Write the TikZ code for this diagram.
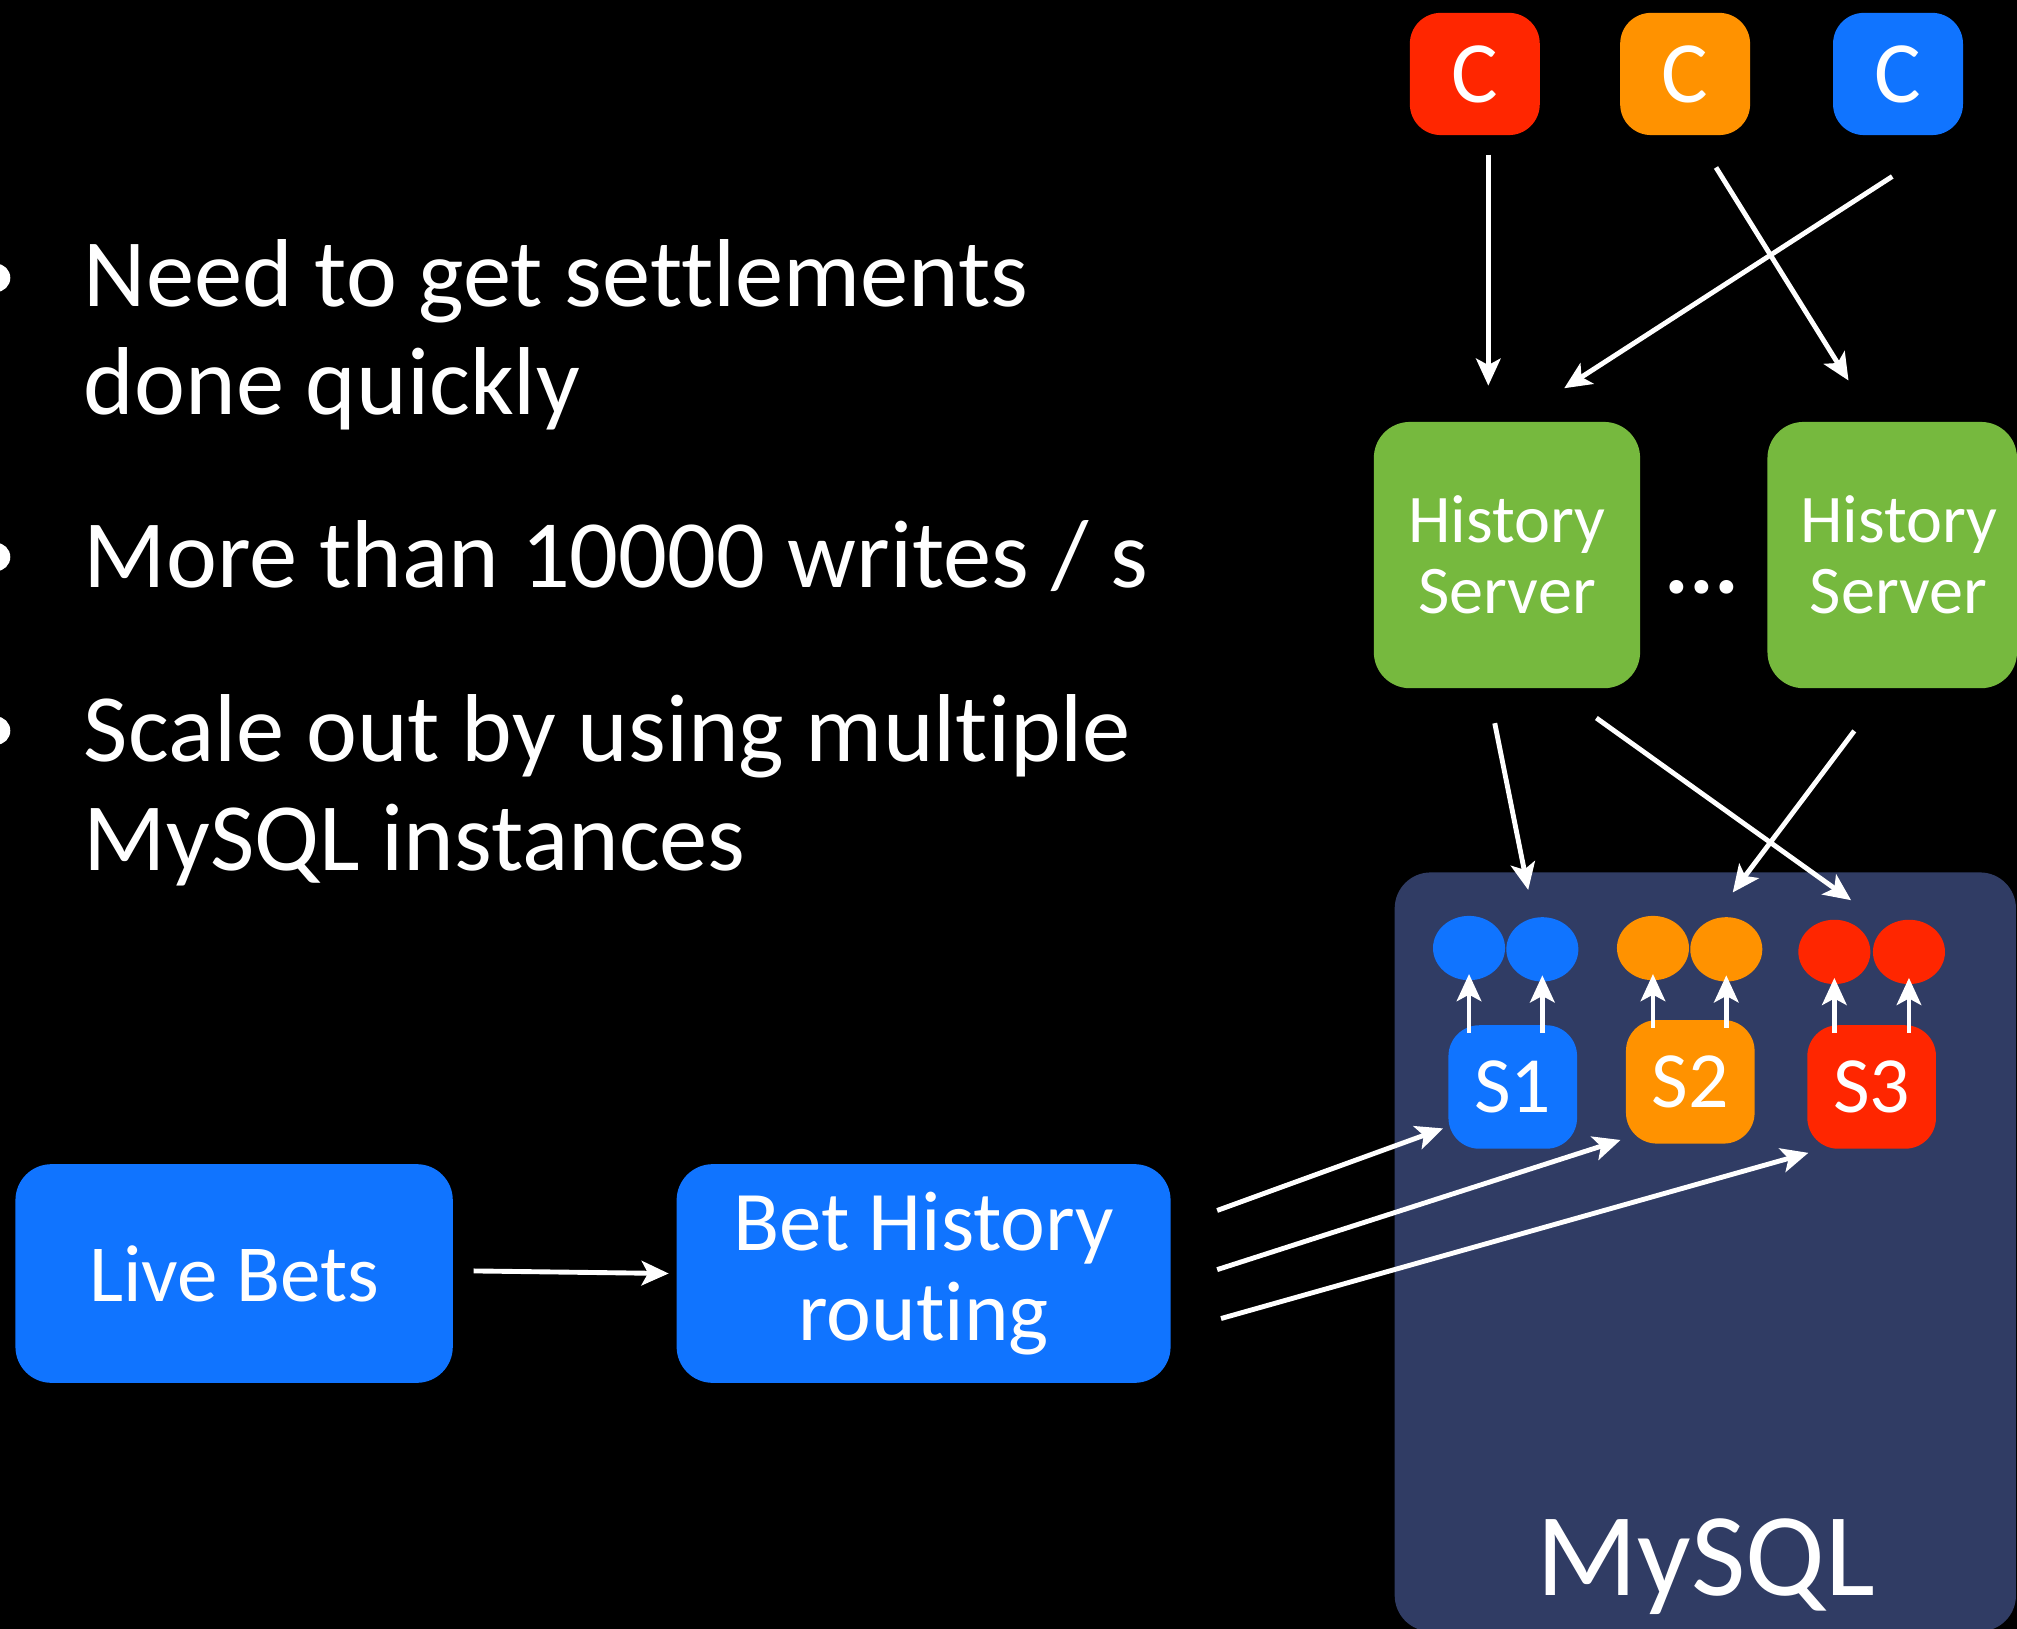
\documentclass[tikz,border=0pt]{standalone}
\usepackage{fontspec}
\setmainfont[Ligatures={NoCommon}]{Carlito}
\usetikzlibrary{arrows.meta,calc,shapes.geometric}
\definecolor{cblue}{RGB}{16,116,255}
\definecolor{corange}{RGB}{255,146,0}
\definecolor{cred}{RGB}{255,38,0}
\definecolor{cgreen}{RGB}{118,185,62}
\definecolor{cnavy}{RGB}{48,60,100}
\begin{document}
\begin{tikzpicture}[x=1pt,y=-1pt,
  box/.style={rounded corners=28pt, text=white, inner sep=0pt, align=center},
  cbox/.style={box, rounded corners=24pt, minimum width=101pt, minimum height=95pt, font=\fontsize{68}{68}\selectfont},
  sbox/.style={box, rounded corners=24pt, minimum width=100pt, minimum height=96pt, font=\fontsize{62}{62}\selectfont},
  hsbox/.style={box, fill=cgreen, minimum height=207pt, font=\fontsize{53}{55}\selectfont},
  bigbox/.style={box, fill=cblue, minimum height=170pt},
  blob/.style={ellipse, minimum width=56pt, minimum height=50pt, inner sep=0pt},
  bul/.style={text=white, inner sep=0pt, font=\fontsize{75}{85}\selectfont},
  arr/.style={draw=white, line width=3.8pt, -{Stealth[length=21pt,width=19pt,inset=5pt]}},
  sarr/.style={arr},
]
\fill[black] (0,0) rectangle (1568,1266);
\useasboundingbox (0,0) rectangle (1568,1266);

% bullets
\foreach \yy in {216,433,568}{
  \fill[white] (-3,\yy) circle[radius=11pt];
}
\node[bul, anchor=base west] (t1) at (65,238) {Need to get settlements};
\node[bul, anchor=base west] (t1b) at (65,322) {done quickly};
\node[bul, anchor=base west] (t2) at (65,457) {More than 10000 writes / s};
\node[bul, anchor=base west] (t3) at (65,592) {Scale out by using multiple};
\node[bul, anchor=base west] (t3b) at (65,677) {MySQL instances};

% MySQL container
\node[box, fill=cnavy, minimum width=483pt, minimum height=590pt, anchor=north west] (db) at (1084,678) {};
\node[text=white, inner sep=0pt, anchor=base, font=\fontsize{92}{92}\selectfont] (dbl) at (1326,1240) {MySQL};

% clients
\node[cbox, fill=cred] (c1) at (1146.5,57.5) {C};
\node[cbox, fill=corange] (c2) at (1310,57.5) {C};
\node[cbox, fill=cblue] (c3) at (1475.5,57.5) {C};

% history servers
\node[hsbox, minimum width=207pt] (h1) at (1171.5,431.5) {History\\Server};
\node[hsbox, minimum width=194pt] (h2) at (1471,431.5) {\hspace*{10pt}History\\\hspace*{10pt}Server};
\node[text=white, inner sep=0pt, anchor=base, font=\fontsize{72}{72}\bfseries] (dots) at (1323,461) {...};

% shards
\node[blob, fill=cblue] (e11) at (1142,737) {};
\node[blob, fill=cblue] (e12) at (1199,738) {};
\node[blob, fill=corange] (e21) at (1285,737) {};
\node[blob, fill=corange] (e22) at (1342,738) {};
\node[blob, fill=cred] (e31) at (1426,740) {};
\node[blob, fill=cred] (e32) at (1484,740) {};

\node[sbox, fill=cblue] (s1) at (1176,845) {S1};
\node[sbox, fill=corange] (s2) at (1314,841) {S2};
\node[sbox, fill=cred] (s3) at (1455,845) {S3};

% live bets & routing
\node[bigbox, minimum width=340pt, font=\fontsize{63}{63}\selectfont] (lb) at (182,990) {Live Bets};
\node[bigbox, minimum width=384pt, font=\fontsize{66}{70}\selectfont] (br) at (718,990) {Bet History\\routing};

% connectors
\draw[arr] ($(c1.south)+(10.5,15)$) -- ($(h1.north)+(-14.5,-28)$);
\draw[arr] ($(c2.south)+(24,25)$) -- ($(h2.north)+(-34,-32)$);
\draw[arr] ($(c3.south)+(-4.5,32)$) -- ($(h1.north)+(44.5,-26)$);

\draw[arr] ($(h1.south)+(-9.5,27)$) -- ($(e12.north)+(-11,-21)$);
\draw[arr] ($(h1.south)+(69.5,23)$) -- ($(e31.north)+(13,-15)$);
\draw[arr] ($(h2.south)+(-29.5,33)$) -- ($(e22.north)+(5,-19)$);

\foreach \s/\e in {s1/e11,s1/e12,s2/e21,s2/e22,s3/e31,s3/e32}{
  \draw[sarr] ($(\e |- \s.north)+(0,6)$) -- ($(\e.south)+(0,-5)$);
}

\draw[arr] ($(lb.east)+(16,-2)$) -- ($(br.west)+(-6,0)$);
\draw[arr] ($(br.east)+(36,-49)$) -- ($(s1.south west)+(-4,-16)$);
\draw[arr] ($(br.east)+(36,-3)$) -- ($(s2.south west)+(-4,-3)$);
\draw[arr] ($(br.east)+(39,35)$) -- ($(s3.south west)+(1,3)$);
\end{tikzpicture}
\end{document}
